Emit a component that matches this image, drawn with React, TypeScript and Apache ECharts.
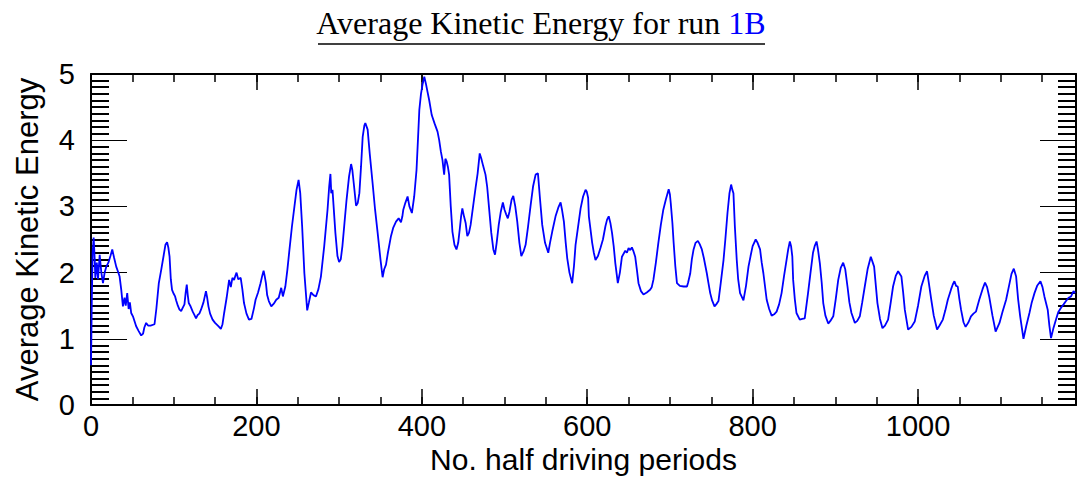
import React, { useEffect, useRef } from "react";
import * as echarts from "echarts";

// x: number of half driving periods, y: average kinetic energy
const periods: number[] = [
  0, 1, 2, 3.2, 4.5, 5.2, 7, 8.5, 10.5, 12.5, 14.5, 16.5, 18.5, 21, 23.5, 25.7, 28, 30.5, 32.5, 34.6,
  36.5, 38.6, 40.5, 42, 43.8, 45.5, 47, 48.6, 51, 54.6, 57.5, 60.7, 63, 64.5, 66.7, 69, 72, 76.8, 79, 82,
  85, 88, 90, 92, 93.5, 95, 96.5, 98, 100, 101.7, 103, 105, 107, 109, 111, 113, 114.5, 115.8, 117, 118.2,
  120, 123, 125, 127, 129, 131, 133, 136, 139, 140.5, 142, 144, 147, 150, 154, 157, 159, 161, 164, 167,
  169, 171, 173, 174.5, 176, 178, 181, 183, 185, 188, 191, 194, 197, 199, 202, 205, 207, 208.7, 210, 211.5,
  213, 215, 218, 221, 224, 227, 230, 232, 235, 237.5, 240, 243, 246, 248.5, 251, 253, 255.3, 258, 261.4, 263.5,
  266, 269, 272, 275, 278, 282, 286, 288, 289.5, 290.5, 292, 295.5, 298, 300, 302, 304, 306.5, 309, 312, 314.5,
  316, 317.7, 320.5, 322.5, 324.5, 326.5, 328.5, 330.5, 331.7, 334.5, 337, 340.5, 343.5, 346.6, 350, 352.6, 354.5, 356.7, 359, 362.7,
  365.5, 368.8, 372, 374.8, 376.5, 377.6, 380, 382.8, 385, 388, 390.8, 393.6, 395.5, 397, 399, 401, 403, 405, 406.9, 409,
  412, 415.5, 419, 421, 423, 425, 427, 428.5, 430, 431.5, 433, 435, 437, 439.5, 441.9, 444, 446, 447.5, 449, 451,
  453, 455, 457, 459, 462, 465, 467.5, 470, 472, 474, 477, 479, 481, 484, 486.5, 488.5, 490.5, 493, 495.5, 498,
  500, 502, 504, 506, 508.5, 510.6, 513, 515.4, 518, 520.3, 523, 525.5, 528.5, 531.6, 534.5, 537.6, 540.4, 543, 545.6, 549,
  552.9, 555, 557.7, 561.7, 565, 567.8, 569.5, 571.8, 574, 575.8, 578.5, 581.8, 584, 585.9, 589, 592, 595, 598, 599.5, 601.1,
  602, 604, 606, 608, 610, 613, 616, 619, 622, 624, 626, 628, 630, 632, 634, 637, 639.5, 642, 646, 648,
  650, 652, 654, 656, 658, 660, 662, 665, 668, 672, 676, 678, 680, 683, 686, 689, 692, 695, 698.5, 700,
  701, 703, 704.5, 706.5, 708.5, 712, 716.5, 720.6, 722, 724.6, 726.5, 728.6, 731, 733.8, 736, 738.6, 741, 744.6, 746.5, 748.7,
  751, 753.9, 756, 758.7, 761.5, 764.8, 767, 769.6, 772, 774, 775.5, 776.8, 778.5, 780.8, 782.5, 784.8, 788.9, 792, 795, 797.5,
  800, 803.7, 806, 809, 811, 813, 817, 820, 823, 826, 829, 832, 835, 838, 841, 843, 845, 846.5, 848, 849,
  851, 853, 857, 860, 863, 867, 870, 873, 875, 877.3, 879, 881.3, 883.5, 885.4, 888, 891.4, 894, 897.5, 900.5, 903.5,
  906.5, 909.5, 912, 914.7, 917, 919.5, 923.6, 926.5, 929.6, 932.5, 935.6, 939, 942.9, 946.9, 949, 950.9, 954, 957, 960, 963.8,
  967, 969.8, 973, 975.9, 979.9, 982, 984, 988, 992, 996, 1000, 1004, 1008, 1010.9, 1013, 1016, 1019, 1023, 1026, 1030,
  1033, 1036, 1040, 1042, 1044, 1046, 1048, 1050, 1052, 1055, 1057.5, 1061, 1064, 1067, 1070, 1074, 1078, 1081, 1083.5, 1086,
  1090, 1093.8, 1098.5, 1102, 1106.5, 1110, 1113, 1115.8, 1118.6, 1121, 1123.5, 1127.5, 1131, 1134.7, 1137.5, 1140.8, 1144, 1148, 1150.5, 1152.8,
  1156.8, 1158.8, 1160.8, 1163.5, 1166.8, 1169.5, 1172.9, 1176, 1178.9, 1182, 1185, 1188, 1190,
];

const kineticEnergy: number[] = [
  0.6, 1.6, 2.3, 2.53, 2.2, 1.92, 2.15, 1.9, 2.27, 2.0, 1.84, 2.0, 2.09, 2.15, 2.25, 2.35, 2.22, 2.09, 2.02, 1.94,
  1.75, 1.49, 1.62, 1.5, 1.69, 1.45, 1.55, 1.39, 1.33, 1.19, 1.12, 1.05, 1.08, 1.17, 1.24, 1.2, 1.2, 1.22, 1.45, 1.84,
  2.05, 2.27, 2.42, 2.46, 2.38, 2.24, 1.9, 1.74, 1.68, 1.64, 1.58, 1.5, 1.44, 1.42, 1.47, 1.52, 1.7, 1.82, 1.66, 1.54,
  1.5, 1.41, 1.36, 1.31, 1.36, 1.38, 1.44, 1.55, 1.72, 1.62, 1.49, 1.38, 1.29, 1.24, 1.19, 1.15, 1.22, 1.39, 1.62, 1.89,
  1.78, 1.92, 1.89, 1.95, 2.0, 1.9, 1.92, 1.75, 1.54, 1.38, 1.29, 1.3, 1.46, 1.59, 1.7, 1.84, 1.95, 2.03, 1.95, 1.84,
  1.66, 1.57, 1.49, 1.53, 1.59, 1.62, 1.77, 1.64, 1.79, 2.05, 2.35, 2.7, 3.0, 3.25, 3.4, 3.2, 2.7, 1.99, 1.43, 1.55,
  1.7, 1.66, 1.64, 1.75, 1.94, 2.4, 2.95, 3.3, 3.49, 3.2, 3.25, 2.6, 2.25, 2.16, 2.2, 2.4, 2.75, 3.1, 3.45, 3.64,
  3.55, 3.35, 3.01, 3.05, 3.2, 3.6, 4.05, 4.22, 4.26, 4.16, 3.8, 3.35, 2.95, 2.6, 2.2, 1.93, 2.05, 2.12, 2.3, 2.55,
  2.68, 2.77, 2.82, 2.76, 2.85, 2.95, 3.05, 3.15, 3.0, 2.9, 3.15, 3.55, 4.05, 4.46, 4.7, 4.85, 4.96, 4.85, 4.73, 4.6,
  4.38, 4.25, 4.13, 4.0, 3.83, 3.7, 3.48, 3.72, 3.68, 3.6, 3.48, 3.0, 2.62, 2.42, 2.35, 2.45, 2.67, 2.85, 2.97, 2.85,
  2.75, 2.55, 2.6, 2.72, 3.0, 3.28, 3.5, 3.8, 3.72, 3.62, 3.48, 3.3, 3.02, 2.6, 2.35, 2.27, 2.45, 2.72, 2.92, 3.06,
  2.95, 2.88, 2.82, 2.92, 3.1, 3.16, 3.0, 2.77, 2.45, 2.25, 2.32, 2.42, 2.7, 3.02, 3.3, 3.48, 3.5, 3.1, 2.72, 2.45,
  2.3, 2.45, 2.62, 2.85, 2.98, 3.06, 2.95, 2.77, 2.45, 2.22, 2.0, 1.84, 2.1, 2.42, 2.7, 2.97, 3.15, 3.25, 3.22, 3.13,
  2.85, 2.65, 2.45, 2.3, 2.19, 2.25, 2.37, 2.5, 2.7, 2.8, 2.85, 2.75, 2.6, 2.4, 2.14, 1.84, 2.0, 2.24, 2.33, 2.3,
  2.37, 2.34, 2.38, 2.32, 2.24, 2.05, 1.84, 1.72, 1.67, 1.7, 1.74, 1.78, 1.89, 2.15, 2.45, 2.72, 2.95, 3.1, 3.26, 3.18,
  3.05, 2.75, 2.45, 2.1, 1.84, 1.8, 1.79, 1.79, 1.85, 1.99, 2.2, 2.35, 2.45, 2.48, 2.43, 2.35, 2.22, 1.99, 1.85, 1.69,
  1.58, 1.49, 1.52, 1.57, 1.85, 2.19, 2.5, 2.9, 3.2, 3.33, 3.25, 3.2, 2.7, 2.19, 1.9, 1.69, 1.58, 1.8, 2.09, 2.25,
  2.4, 2.5, 2.45, 2.35, 2.15, 1.99, 1.59, 1.45, 1.35, 1.37, 1.41, 1.52, 1.69, 1.95, 2.19, 2.35, 2.47, 2.4, 2.24, 1.89,
  1.6, 1.39, 1.29, 1.3, 1.31, 1.69, 2.0, 2.3, 2.4, 2.47, 2.35, 2.14, 1.85, 1.54, 1.35, 1.23, 1.27, 1.34, 1.6, 1.89,
  2.07, 2.15, 2.05, 1.79, 1.55, 1.39, 1.24, 1.27, 1.34, 1.55, 1.79, 2.05, 2.24, 2.09, 1.8, 1.54, 1.3, 1.16, 1.2, 1.29,
  1.55, 1.79, 1.95, 2.02, 1.94, 1.7, 1.44, 1.14, 1.18, 1.26, 1.5, 1.79, 1.95, 2.02, 1.85, 1.59, 1.35, 1.14, 1.2, 1.29,
  1.43, 1.59, 1.75, 1.82, 1.87, 1.8, 1.79, 1.6, 1.44, 1.25, 1.18, 1.25, 1.34, 1.38, 1.41, 1.59, 1.75, 1.85, 1.78, 1.64,
  1.35, 1.11, 1.24, 1.4, 1.59, 1.8, 1.98, 2.06, 1.94, 1.6, 1.34, 1.0, 1.2, 1.39, 1.55, 1.69, 1.8, 1.87, 1.78, 1.64,
  1.44, 1.2, 1.01, 1.15, 1.29, 1.4, 1.47, 1.52, 1.57, 1.62, 1.64, 1.72, 1.69,
];

const xMajorTicks = [0, 200, 400, 600, 800, 1000];
const yMajorTicks = [0, 1, 2, 3, 4, 5];

const X_MAX = 1191;
const SANS = "'Liberation Sans', Arial, Helvetica, sans-serif";
const SERIF = "'Liberation Serif', 'Times New Roman', serif";

export default function App() {
  const ref = useRef<HTMLDivElement>(null);

  useEffect(() => {
    if (!ref.current) return;
    const chart = echarts.init(ref.current, undefined, { renderer: "svg" });
    const data = periods.map((p, i) => [p, kineticEnergy[i]]);

    const xBase = {
      type: "value" as const,
      min: 0,
      max: X_MAX,
      splitLine: { show: false },
    };
    const yBase = {
      type: "value" as const,
      min: 0,
      max: 5,
      interval: 1,
      splitLine: { show: false },
      axisLine: { show: true, onZero: false, lineStyle: { color: "#000", width: 2 } },
      axisTick: { show: true, inside: true, length: 36, lineStyle: { color: "#000", width: 1 } },
      minorTick: { show: true, splitNumber: 10, length: 18, lineStyle: { color: "#000", width: 2 } },
    };

    chart.setOption({
      animation: false,
      backgroundColor: "#fff",
      grid: { left: 91, right: 1, top: 74, bottom: 76, containLabel: false },
      graphic: [
        {
          type: "text",
          x: 541,
          y: 23,
          style: {
            text: "{a|Average Kinetic Energy for run }{b|1B}",
            align: "center",
            verticalAlign: "middle",
            rich: {
              a: { fontFamily: SERIF, fontSize: 32, fill: "#000", color: "#000" },
              b: { fontFamily: SERIF, fontSize: 32, fill: "#0000ff", color: "#0000ff" },
            },
          },
        },
        {
          type: "line",
          shape: { x1: 318, y1: 44, x2: 765, y2: 44 },
          style: { stroke: "#000", lineWidth: 1.5 },
        },
      ],
      xAxis: [
        {
          ...xBase,
          position: "bottom",
          interval: 200,
          name: "No. half driving periods",
          nameLocation: "middle",
          nameGap: 38,
          nameTextStyle: { fontFamily: SANS, fontSize: 30, color: "#000" },
          axisLine: { show: true, onZero: false, lineStyle: { color: "#000", width: 2 } },
          axisTick: { show: true, inside: true, length: 16, lineStyle: { color: "#000", width: 1.5 } },
          axisLabel: {
            fontFamily: SANS,
            fontSize: 29,
            color: "#000",
            margin: 6,
            formatter: (v: number) => (xMajorTicks.includes(v) ? String(v) : ""),
          },
        },
        {
          ...xBase,
          position: "bottom",
          interval: 50,
          axisLine: { show: false, onZero: false },
          axisTick: { show: true, inside: true, length: 8, lineStyle: { color: "#000", width: 1.5 } },
          axisLabel: { show: false },
        },
        {
          ...xBase,
          position: "top",
          interval: 200,
          axisLine: { show: true, onZero: false, lineStyle: { color: "#000", width: 2 } },
          axisTick: { show: true, inside: true, length: 16, lineStyle: { color: "#000", width: 1.5 } },
          axisLabel: { show: false },
        },
        {
          ...xBase,
          position: "top",
          interval: 50,
          axisLine: { show: false, onZero: false },
          axisTick: { show: true, inside: true, length: 8, lineStyle: { color: "#000", width: 1.5 } },
          axisLabel: { show: false },
        },
      ],
      yAxis: [
        {
          ...yBase,
          position: "left",
          name: "Average Kinetic Energy",
          nameLocation: "middle",
          nameGap: 48,
          nameRotate: 90,
          nameTextStyle: { fontFamily: SANS, fontSize: 31, color: "#000" },
          axisLabel: {
            fontFamily: SANS,
            fontSize: 29,
            color: "#000",
            margin: 16,
            formatter: (v: number) => (yMajorTicks.includes(v) ? String(v) : ""),
          },
        },
        {
          ...yBase,
          position: "right",
          axisLabel: { show: false },
        },
      ],
      series: [
        {
          type: "line",
          xAxisIndex: 0,
          yAxisIndex: 0,
          data,
          showSymbol: false,
          symbol: "none",
          lineStyle: { color: "#0000ff", width: 1.8 },
          silent: true,
        },
      ],
    });
    return () => chart.dispose();
  }, []);

  return (
    <div
      ref={ref}
      style={{ position: "absolute", left: 0, top: 0, width: 1079, height: 481 }}
    />
  );
}
